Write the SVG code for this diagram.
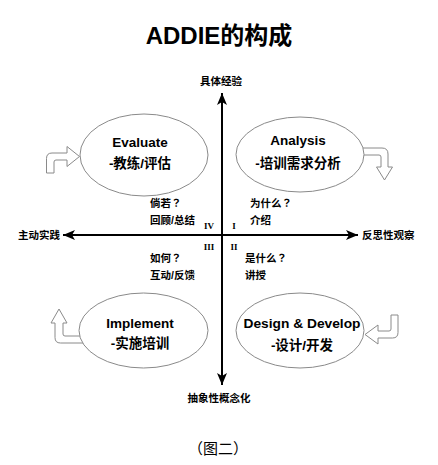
<svg xmlns="http://www.w3.org/2000/svg" width="438" height="465" viewBox="0 0 438 465">
<defs>
<marker id="ah" viewBox="0 0 12 10" refX="12" refY="5" markerWidth="12" markerHeight="10" markerUnits="userSpaceOnUse" orient="auto-start-reverse">
<path d="M0,0 L12,5 L0,10 L3,5 z" fill="#000"/>
</marker>
</defs>
<style>
text{font-family:"Liberation Sans","Noto Sans CJK SC",sans-serif;fill:#000;font-weight:bold}
.title{font-size:24px}
.ax{font-size:10.5px}
.lb{font-size:10.5px}
.q{font-family:"Noto Sans CJK JP","Noto Sans CJK SC",sans-serif}
.nd{font-size:13.5px;text-anchor:middle}
.num{font-family:"Liberation Serif","DejaVu Serif",serif;font-size:9px;text-anchor:middle}
.el{fill:#fff;stroke:#8a8a8a;stroke-width:1}
.ba{fill:#fff;stroke:#8a8a8a;stroke-width:1;stroke-linejoin:miter}
.axis{stroke:#000;stroke-width:2;fill:none}
.cap{font-family:"Noto Sans CJK SC",sans-serif;font-weight:normal;font-size:15px;text-anchor:middle}
</style>
<rect width="438" height="465" fill="#fff"/>
<text class="title" x="219" y="44" text-anchor="middle">ADDIE的构成</text>

<g id="connectors">
<line class="axis" x1="222" y1="385" x2="222" y2="93" marker-start="url(#ah)" marker-end="url(#ah)"/>
<line class="axis" x1="63" y1="235" x2="358" y2="235" marker-start="url(#ah)" marker-end="url(#ah)"/>
</g>

<g id="axis-labels">
<text class="ax" x="221" y="85" text-anchor="middle">具体经验</text>
<text class="ax" x="219" y="402" text-anchor="middle">抽象性概念化</text>
<text class="ax" x="18" y="239">主动实践</text>
<text class="ax" x="362" y="239">反思性观察</text>
</g>

<g id="quadrants">
<text class="num" x="209" y="229">IV</text>
<text class="num" x="234" y="229">I</text>
<text class="num" x="209" y="250">III</text>
<text class="num" x="234" y="250">II</text>
<text class="lb" x="150" y="207">倘若<tspan class="q">？</tspan></text>
<text class="lb" x="150" y="224">回顾/总结</text>
<text class="lb" x="250" y="207">为什么<tspan class="q">？</tspan></text>
<text class="lb" x="250" y="224">介绍</text>
<text class="lb" x="150" y="262">如何<tspan class="q">？</tspan></text>
<text class="lb" x="150" y="279">互动/反馈</text>
<text class="lb" x="245" y="262">是什么<tspan class="q">？</tspan></text>
<text class="lb" x="245" y="279">讲授</text>
</g>

<g id="evaluate">
<ellipse class="el" cx="144" cy="155" rx="64" ry="41"/>
<path class="ba" d="M46.5,173 L46.5,158.5 Q46.5,153 52,153 L67,153 L67,146.5 L79.5,156.5 L67,166.5 L67,160 L56,160 Q54,160 54,162 L54,173 Z"/>
<text class="nd" x="140" y="147">Evaluate</text>
<text class="nd" x="140" y="168">-教练/评估</text>
</g>

<g id="analysis">
<path class="ba" d="M358,148 L382,148 Q388,148 388,154 L388,167 L392.5,167 L384.5,180 L376.5,167 L381,167 L381,157 Q381,155 379,155 L358,155 Z"/>
<ellipse class="el" cx="300" cy="154.5" rx="64" ry="37.5"/>
<text class="nd" x="298" y="145">Analysis</text>
<text class="nd" x="298" y="168">-培训需求分析</text>
</g>

<g id="implement">
<path class="ba" d="M59,309 L67,323 L63,323 L63,334 Q63,336 65,336 L86,336 L86,343 L60.5,343 Q55,343 55,337.5 L55,323 L51,323 Z"/>
<ellipse class="el" cx="143.5" cy="330.5" rx="64.5" ry="37.5"/>
<text class="nd" x="140" y="328">Implement</text>
<text class="nd" x="140" y="348">-实施培训</text>
</g>

<g id="design">
<ellipse class="el" cx="300" cy="330.5" rx="64" ry="37.5"/>
<path class="ba" d="M391,315 L398,315 L398,332.5 Q398,338 392.5,338 L378,338 L378,344 L365,334.5 L378,325 L378,331 L389,331 Q391,331 391,329 Z"/>
<text class="nd" x="302" y="328" textLength="117" lengthAdjust="spacingAndGlyphs">Design &amp; Develop</text>
<text class="nd" x="302" y="350">-设计/开发</text>
</g>

<text class="cap" x="218" y="454">（图二）</text>
</svg>
